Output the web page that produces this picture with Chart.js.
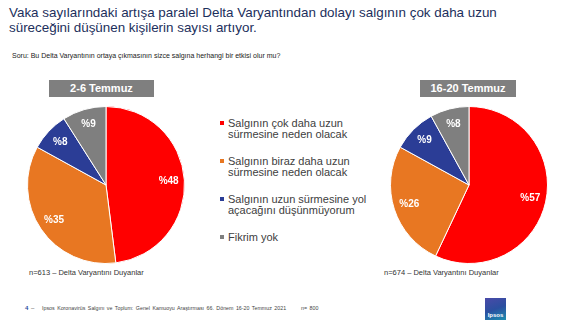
<!DOCTYPE html>
<html>
<head>
<meta charset="utf-8">
<script src="https://cdn.jsdelivr.net/npm/chart.js@4/dist/chart.umd.min.js"></script>
<style>
  body { margin: 0; width: 588px; height: 331px; background: #fff; position: relative; overflow: hidden;
         font-family: "Liberation Sans", Arial, sans-serif; }
  .abs { position: absolute; white-space: nowrap; }
  #headline { left: 9px; top: 6px; font-size: 13.4px; line-height: 14.5px; color: #1c2f5c; }
  #question { left: 12px; top: 52px; font-size: 7px; color: #222; }
  .period { background: #7f7f7f; color: #fff; font-weight: bold; font-size: 11px; text-align: center;
            height: 17px; line-height: 17px; }
  .note { font-size: 7.5px; color: #333; }
  .legend-item { left: 220px; font-size: 11px; line-height: 10.5px; color: #404040; }
  .legend-item span.box { display: inline-block; width: 4px; height: 4px; margin-right: 4px; vertical-align: 2px; }
  .legend-item div { padding-left: 8px; }
  .foot { top: 305px; font-size: 5.3px; color: #444; word-spacing: 1px; }
  #logo { left: 485px; top: 298px; width: 21px; height: 22px;
          background: linear-gradient(160deg, #4a4aa8 0%, #2b4fa0 50%, #1d8fb0 100%);
          color: #fff; font-size: 6px; font-weight: bold; text-align: center; line-height: 34px; }
</style>
</head>
<body>
<div id="headline" class="abs">Vaka sayılarındaki artışa paralel Delta Varyantından dolayı salgının çok daha uzun<br>süreceğini düşünen kişilerin sayısı artıyor.</div>
<div id="question" class="abs">Soru: Bu Delta Varyantının ortaya çıkmasının sizce salgına herhangi bir etkisi olur mu?</div>

<div id="period0" class="abs period" style="left:49px; top:80px; width:105px;"></div>
<div id="period1" class="abs period" style="left:420px; top:80px; width:96px;"></div>

<canvas id="pie0" class="abs" width="158" height="158" style="left:27px; top:106px;"></canvas>
<canvas id="pie1" class="abs" width="158" height="158" style="left:390px; top:106px;"></canvas>

<div id="note0" class="abs note" style="left:29px; top:268px;"></div>
<div id="note1" class="abs note" style="left:384px; top:268px;"></div>

<div id="legend"></div>

<div class="abs foot" style="left:25px; font-size:6px;"><b style="color:#2b4fa0">4</b> –</div>
<div class="abs foot" style="left:42px;">Ipsos Koronavirüs Salgını ve Toplum: Genel Kamuoyu Araştırması 66. Dönem 16-20 Temmuz 2021</div>
<div class="abs foot" style="left:301px;">n= 800</div>
<div id="logo" class="abs">Ipsos</div>

<script>
// legend text, one entry per answer (line breaks as in the original)
const categories = [
  ["Salgının çok daha uzun", "sürmesine neden olacak"],
  ["Salgının biraz daha uzun", "sürmesine neden olacak"],
  ["Salgının uzun sürmesine yol", "açacağını düşünmüyorum"],
  ["Fikrim yok"]
];
const periods = ["2-6 Temmuz", "16-20 Temmuz"];
const july2to6 = [48, 35, 8, 9];
const july16to20 = [57, 26, 9, 8];
const sampleNotes = ["n=613 – Delta Varyantını  Duyanlar", "n=674 – Delta Varyantını  Duyanlar"];
const sliceColors = ["#ff0000", "#e87722", "#2b3d96", "#7f7f7f"];

// percent labels drawn at 80% of the radius
const pctLabels = {
  id: "pctLabels",
  afterDatasetsDraw(chart) {
    const ctx = chart.ctx;
    const values = chart.data.datasets[0].data;
    ctx.save();
    ctx.fillStyle = "#fff";
    ctx.font = "bold 10px 'Liberation Sans', Arial, sans-serif";
    ctx.textAlign = "center";
    ctx.textBaseline = "middle";
    chart.getDatasetMeta(0).data.forEach((arc, i) => {
      const mid = (arc.startAngle + arc.endAngle) / 2;
      const r = arc.outerRadius * 0.8;
      ctx.fillText("%" + values[i], arc.x + Math.cos(mid) * r, arc.y + Math.sin(mid) * r);
    });
    ctx.restore();
  },
};

function drawPie(id, values) {
  return new Chart(document.getElementById(id), {
    type: "pie",
    data: {
      labels: categories.map((c) => c.join(" ")),
      datasets: [{ data: values, backgroundColor: sliceColors, borderColor: "#fff", borderWidth: 1 }],
    },
    options: {
      responsive: false,
      animation: false,
      layout: { padding: 0 },
      plugins: { legend: { display: false }, tooltip: { enabled: false } },
    },
    plugins: [pctLabels],
  });
}

drawPie("pie0", july2to6);
drawPie("pie1", july16to20);

periods.forEach((p, i) => { document.getElementById("period" + i).textContent = p; });
sampleNotes.forEach((n, i) => { document.getElementById("note" + i).textContent = n; });

const legend = document.getElementById("legend");
categories.forEach((lines, i) => {
  const item = document.createElement("div");
  item.className = "abs legend-item";
  item.style.top = (118 + i * 38) + "px";
  item.innerHTML = '<span class="box" style="background:' + sliceColors[i] + '"></span>' + lines[0] +
    (lines[1] ? "<div>" + lines[1] + "</div>" : "");
  legend.appendChild(item);
});
</script>
</body>
</html>
